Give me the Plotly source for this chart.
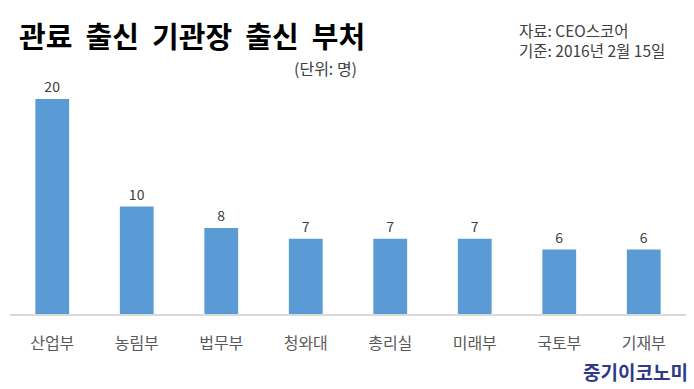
import plotly.graph_objects as go

categories = ["산업부", "농림부", "법무부", "청와대", "총리실", "미래부", "국토부", "기재부"]
values = [20, 10, 8, 7, 7, 7, 6, 6]

FONT = "Noto Sans CJK KR"

fig = go.Figure(go.Bar(
    x=categories, y=values,
    marker=dict(color="#5B9BD5", line=dict(width=0)),
    text=[str(v) for v in values], textposition="outside",
    textfont=dict(family=FONT, size=14, color="#404040"),
    cliponaxis=False, width=0.4,
))

W, H = 694, 389
l, r, t, b = 10, 8, 99, 75

fig.update_layout(
    width=W, height=H,
    margin=dict(l=l, r=r, t=t, b=b),
    paper_bgcolor="white", plot_bgcolor="white",
    showlegend=False,
    bargap=0.6,
    xaxis=dict(showgrid=False, showline=True, linecolor="#D9D9D9", linewidth=1.5,
               ticks="", ticklabelstandoff=14,
               tickfont=dict(family=FONT, size=16, color="#595959")),
    yaxis=dict(range=[0, 20], visible=False, showgrid=False),
    annotations=[
        dict(text="<b>관료  출신  기관장  출신  부처</b>", x=17, y=35,
             showarrow=False, font=dict(family=FONT, size=29, color="#000000"),
             xanchor="left", yanchor="middle"),
        dict(text="자료: CEO스코어<br>기준: 2016년 2월 15일", x=517, y=40, showarrow=False,
             align="left",
             font=dict(family=FONT, size=15.5, color="#404040"), xanchor="left", yanchor="middle"),
        dict(text="(단위: 명)", x=359, y=68, showarrow=False,
             font=dict(family=FONT, size=16, color="#404040"), xanchor="right", yanchor="middle"),
        dict(text="<b>중기이코노미</b>", x=690, y=371, showarrow=False,
             font=dict(family=FONT, size=19, color="#2E3A87"), xanchor="right", yanchor="middle"),
    ],
)

pw, ph = W - l - r, H - t - b
for a in fig.layout.annotations:
    px, py = a.x, a.y
    a.x = (px - l) / pw
    a.y = (H - b - py) / ph
    a.xref = "paper"
    a.yref = "paper"

fig.write_html("out.html", config={"displayModeBar": False},
               post_script="document.body.style.margin='0';document.body.style.overflow='hidden';")
